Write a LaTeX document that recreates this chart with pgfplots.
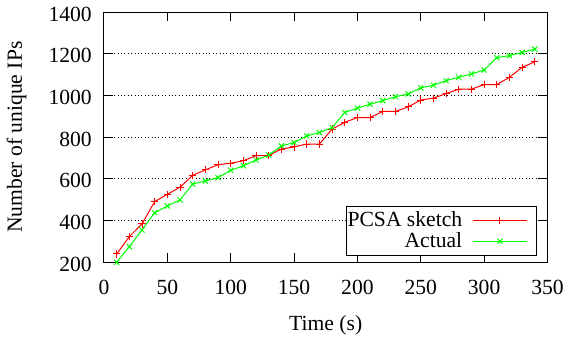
\documentclass[border=0pt]{standalone}
\usepackage{fontspec}
\setmainfont{Liberation Serif}
\usepackage{pgfplots}
\pgfplotsset{compat=1.18}
\definecolor{gpred}{RGB}{255,0,0}
\definecolor{gpgreen}{RGB}{0,255,0}
\newcommand{\tl}[1]{\textrm{#1}}
\begin{document}
\begin{tikzpicture}[font=\fontsize{10.8}{13}\selectfont]
\begin{axis}[
  scale only axis,
  width=221.75pt, height=125.15pt,
  xmin=0, xmax=350, ymin=200, ymax=1400,
  xtick={0,50,100,150,200,250,300,350},
  xticklabels={\tl{0},\tl{50},\tl{100},\tl{150},\tl{200},\tl{250},\tl{300},\tl{350}},
  ytick={200,400,600,800,1000,1200,1400},
  yticklabels={\tl{200},\tl{400},\tl{600},\tl{800},\tl{1000},\tl{1200},\tl{1400}},
  tick pos=both, tick align=inside,
  major tick length=4.5pt,
  axis line style={line width=0.5pt},
  every tick/.style={black, line width=0.5pt},
  ymajorgrids,
  grid style={black, line width=0.4pt, dash pattern=on 0.5pt off 1.2pt},
  xticklabel style={anchor=base, yshift=-16pt},
  yticklabel style={xshift=-2.6pt, yshift=-1pt},
  xlabel={Time (s)},
  ylabel={Number of unique IPs},
  xlabel style={at={(axis description cs:0.5,0)}, anchor=base, yshift=-33.85pt},
  ylabel style={at={(axis description cs:-0.185,0.5)}, anchor=base, rotate=0},
  legend plot pos=right,
  legend cell align=right,
  legend style={at={(axis description cs:0.977,0.2261)}, anchor=north east,
    draw=black, line width=0.5pt, inner xsep=0.5pt, inner ysep=1pt,
    row sep=-1.5pt, column sep=0pt,
    nodes={inner xsep=0pt, inner ysep=1.5pt}},
  legend image code/.code={%
    \path (0pt,0pt) (36.3pt,0pt);
    \draw[mark repeat=2,mark phase=2,#1] plot coordinates {(5.1pt,0pt) (18.6pt,0pt) (32.1pt,0pt)};},
]
\addplot[color=gpred, line width=0.5pt, mark=+, mark size=1.8pt, mark options={solid}] coordinates {
(10,240) (20,323) (30,384) (40,491) (50,526) (60,560) (70,617) (80,643)
(90,668) (100,675) (110,687) (120,711) (130,712) (140,743) (150,753)
(160,767) (170,767) (180,839) (190,871) (200,894) (210,894) (220,923)
(230,923) (240,945) (250,978) (260,987) (270,1009) (280,1030) (290,1030)
(300,1052) (310,1052) (320,1087) (330,1135) (340,1161)
};
\addlegendentry{PCSA sketch}
\addplot[color=gpgreen, line width=0.5pt, mark=x, mark size=1.8pt, mark options={solid}] coordinates {
(10,200) (20,275) (30,355) (40,438) (50,470) (60,499) (70,575) (80,590)
(90,606) (100,641) (110,663) (120,690) (130,714) (140,758) (150,774)
(160,806) (170,822) (180,846) (190,918) (200,939) (210,958) (220,975)
(230,994) (240,1007) (250,1036) (260,1049) (270,1071) (280,1087) (290,1103)
(300,1122) (310,1181) (320,1191) (330,1206) (340,1222)
};
\addlegendentry{Actual}
\end{axis}
\pgfresetboundingbox
\path (-52pt,-37.85pt) rectangle (232pt,131.15pt);
\end{tikzpicture}
\end{document}
